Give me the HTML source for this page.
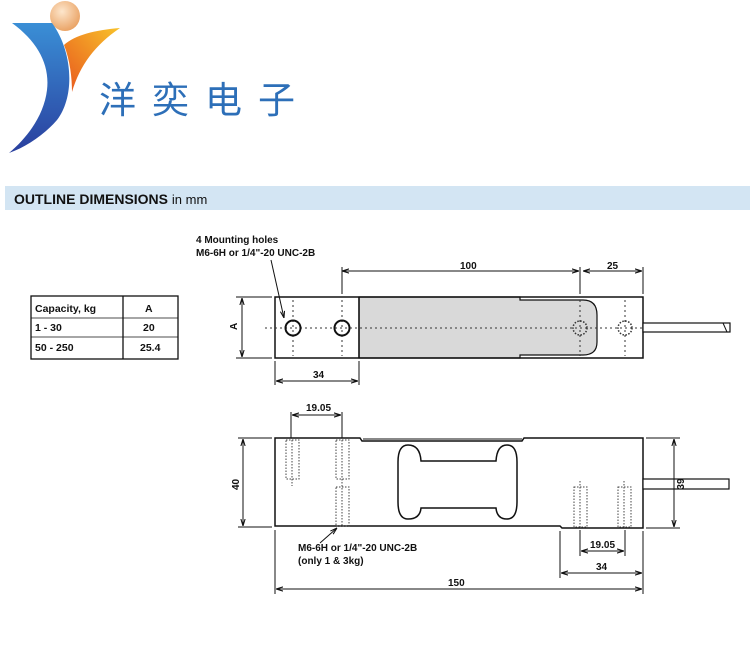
<!DOCTYPE html>
<html><head><meta charset="utf-8"><style>
html,body{margin:0;padding:0;background:#fff;}
svg{display:block;}
text{font-family:"Liberation Sans",Arial,sans-serif;font-weight:bold;fill:#111;}
</style></head><body>
<svg width="750" height="671" viewBox="0 0 750 671" xmlns="http://www.w3.org/2000/svg">
<defs>
<linearGradient id="gb" x1="0" y1="0" x2="0" y2="1"><stop offset="0" stop-color="#3a8fd6"/><stop offset="1" stop-color="#2a3f9e"/></linearGradient>
<linearGradient id="go" x1="1" y1="0" x2="0" y2="1"><stop offset="0" stop-color="#f8c22a"/><stop offset="1" stop-color="#e8561e"/></linearGradient>
<radialGradient id="gball" cx="0.4" cy="0.35" r="0.7"><stop offset="0" stop-color="#fde6cc"/><stop offset="1" stop-color="#e9a060"/></radialGradient>
<marker id="ar" viewBox="0 0 10 10" refX="10" refY="5" markerWidth="7" markerHeight="7" orient="auto-start-reverse"><path d="M0,2 L10,5 L0,8" fill="none" stroke="#111" stroke-width="1.5"/></marker>
</defs>
<!-- logo -->
<circle cx="65" cy="16" r="15" fill="url(#gball)"/>
<path d="M12,23 L52,23 C72,50 76,95 57,120 C44,135 26,147 9,153 C28,137 44,115 47,90 C50,65 38,42 12,23 Z" fill="url(#gb)"/>
<path d="M120,28 C95,30 75,35 64,45 C70,60 72,78 72,92 C80,65 95,45 120,28 Z" fill="url(#go)"/>
<text x="99" y="113" style="font-family:'Noto Sans CJK SC',sans-serif;font-weight:normal;fill:#2d6fb8;font-size:37px;letter-spacing:16px">洋奕电子</text>
<!-- header -->
<rect x="5" y="186" width="745" height="24" fill="#d3e5f3"/>
<text x="14" y="204" font-size="14">OUTLINE DIMENSIONS <tspan font-weight="normal" font-size="13">in mm</tspan></text>
<!-- table -->
<g stroke="#111" stroke-width="1.3" fill="none">
<rect x="31" y="296" width="147" height="63"/>
<line x1="31" y1="318" x2="178" y2="318" stroke-width="0.8"/>
<line x1="31" y1="337" x2="178" y2="337" stroke-width="0.8"/>
<line x1="123" y1="296" x2="123" y2="359"/>
</g>
<g font-size="10.5">
<text x="35" y="312">Capacity, kg</text><text x="145" y="312">A</text>
<text x="35" y="331">1 - 30</text><text x="143" y="331">20</text>
<text x="35" y="351">50 - 250</text><text x="140" y="351">25.4</text>
</g>
<!-- top view -->
<g font-size="10">
<text x="196" y="243">4 Mounting holes</text>
<text x="196" y="256">M6-6H or 1/4"-20 UNC-2B</text>
<text x="460" y="269">100</text><text x="607" y="269">25</text>
<text x="313" y="378">34</text>
<text x="237" y="330" transform="rotate(-90 237 330)">A</text>
</g>
<path d="M359,297 L520,297 L520,300 L583,300 Q597,300 597,315 L597,342 Q597,355 583,355 L520,355 L520,358 L359,358 Z" fill="#d9d9d9" stroke="#111" stroke-width="1.2"/>
<rect x="275" y="297" width="368" height="61" fill="none" stroke="#111" stroke-width="1.5"/>
<line x1="359" y1="297" x2="359" y2="358" stroke="#111" stroke-width="1.5"/>
<rect x="643" y="323" width="87" height="9" fill="#fff" stroke="#111" stroke-width="1.2"/>
<line x1="723" y1="323" x2="727" y2="332" stroke="#111"/>
<g stroke="#333" stroke-width="1" stroke-dasharray="2,3" fill="none">
<line x1="265" y1="328" x2="645" y2="328"/>
<line x1="293" y1="300" x2="293" y2="356"/>
<line x1="342" y1="300" x2="342" y2="356"/>
<line x1="580" y1="300" x2="580" y2="356"/>
<line x1="625" y1="300" x2="625" y2="356"/>
<circle cx="580" cy="328" r="7" stroke-dasharray="1.5,1.5" stroke-width="1.5"/>
<circle cx="625" cy="328" r="7" stroke-dasharray="1.5,1.5" stroke-width="1.5"/>
</g>
<circle cx="293" cy="328" r="7.5" fill="none" stroke="#111" stroke-width="2"/>
<circle cx="342" cy="328" r="7.5" fill="none" stroke="#111" stroke-width="2"/>
<g stroke="#111" stroke-width="1" fill="none">
<line x1="271" y1="260" x2="284" y2="318" marker-end="url(#ar)"/>
<line x1="342" y1="267" x2="342" y2="294"/><line x1="580" y1="267" x2="580" y2="294"/><line x1="643" y1="267" x2="643" y2="294"/>
<line x1="342" y1="271" x2="579" y2="271" marker-start="url(#ar)" marker-end="url(#ar)"/>
<line x1="583" y1="271" x2="642" y2="271" marker-start="url(#ar)" marker-end="url(#ar)"/>
<line x1="236" y1="297" x2="272" y2="297"/><line x1="236" y1="358" x2="272" y2="358"/>
<line x1="242" y1="298" x2="242" y2="357" marker-start="url(#ar)" marker-end="url(#ar)"/>
<line x1="275" y1="361" x2="275" y2="385"/><line x1="359" y1="361" x2="359" y2="385"/>
<line x1="276" y1="381" x2="358" y2="381" marker-start="url(#ar)" marker-end="url(#ar)"/>
</g>
<!-- side view -->
<path d="M275,438 L360,438 L362,441 L522,441 L524,438 L643,438 L643,528 L562,528 L560,526 L275,526 Z" fill="#fff" stroke="#111" stroke-width="1.5"/>
<path d="M363,439 L522,439" stroke="#888" stroke-width="2"/>
<path d="M408,445 Q398,445 398,462 L398,502 Q398,519 408,519 Q420,519 421,508 L496,508 Q497,519 507,519 Q517,519 517,502 L517,462 Q517,445 507,445 Q497,445 496,461 L421,461 Q420,445 408,445 Z" fill="none" stroke="#111" stroke-width="1.5"/>
<rect x="643" y="479" width="86" height="10" fill="#fff" stroke="#111" stroke-width="1.2"/>
<g stroke="#444" stroke-width="1" stroke-dasharray="1.5,1.5" fill="none">
<rect x="286" y="440" width="13" height="39"/><line x1="292" y1="440" x2="292" y2="486"/>
<rect x="336" y="440" width="13" height="39"/><line x1="342" y1="440" x2="342" y2="526"/>
<rect x="336" y="487" width="13" height="39"/>
<rect x="574" y="487" width="13" height="40"/><line x1="580" y1="481" x2="580" y2="527"/>
<rect x="618" y="487" width="13" height="40"/><line x1="624" y1="481" x2="624" y2="527"/>
</g>
<g stroke="#111" stroke-width="1" fill="none">
<line x1="291" y1="412" x2="291" y2="438"/><line x1="342" y1="412" x2="342" y2="438"/>
<line x1="292" y1="415" x2="341" y2="415" marker-start="url(#ar)" marker-end="url(#ar)"/>
<line x1="238" y1="438" x2="272" y2="438"/><line x1="238" y1="527" x2="272" y2="527"/>
<line x1="243" y1="439" x2="243" y2="526" marker-start="url(#ar)" marker-end="url(#ar)"/>
<line x1="646" y1="438" x2="680" y2="438"/><line x1="646" y1="528" x2="680" y2="528"/>
<line x1="674" y1="439" x2="674" y2="527" marker-start="url(#ar)" marker-end="url(#ar)"/>
<line x1="337" y1="528" x2="320" y2="543" marker-start="url(#ar)"/>
<line x1="580" y1="530" x2="580" y2="556"/><line x1="625" y1="530" x2="625" y2="556"/>
<line x1="581" y1="551" x2="624" y2="551" marker-start="url(#ar)" marker-end="url(#ar)"/>
<line x1="560" y1="531" x2="560" y2="578"/><line x1="643" y1="531" x2="643" y2="594"/>
<line x1="561" y1="573" x2="642" y2="573" marker-start="url(#ar)" marker-end="url(#ar)"/>
<line x1="275" y1="530" x2="275" y2="594"/>
<line x1="276" y1="589" x2="642" y2="589" marker-start="url(#ar)" marker-end="url(#ar)"/>
</g>
<g font-size="10">
<text x="306" y="411">19.05</text>
<text x="239" y="490" transform="rotate(-90 239 490)">40</text>
<text x="684" y="484" transform="rotate(-90 684 484)" text-anchor="middle">39</text>
<text x="298" y="551">M6-6H or 1/4"-20 UNC-2B</text>
<text x="298" y="564">(only 1 &amp; 3kg)</text>
<text x="590" y="548">19.05</text>
<text x="596" y="570">34</text>
<text x="448" y="586">150</text>
</g>
</svg>
</body></html>
